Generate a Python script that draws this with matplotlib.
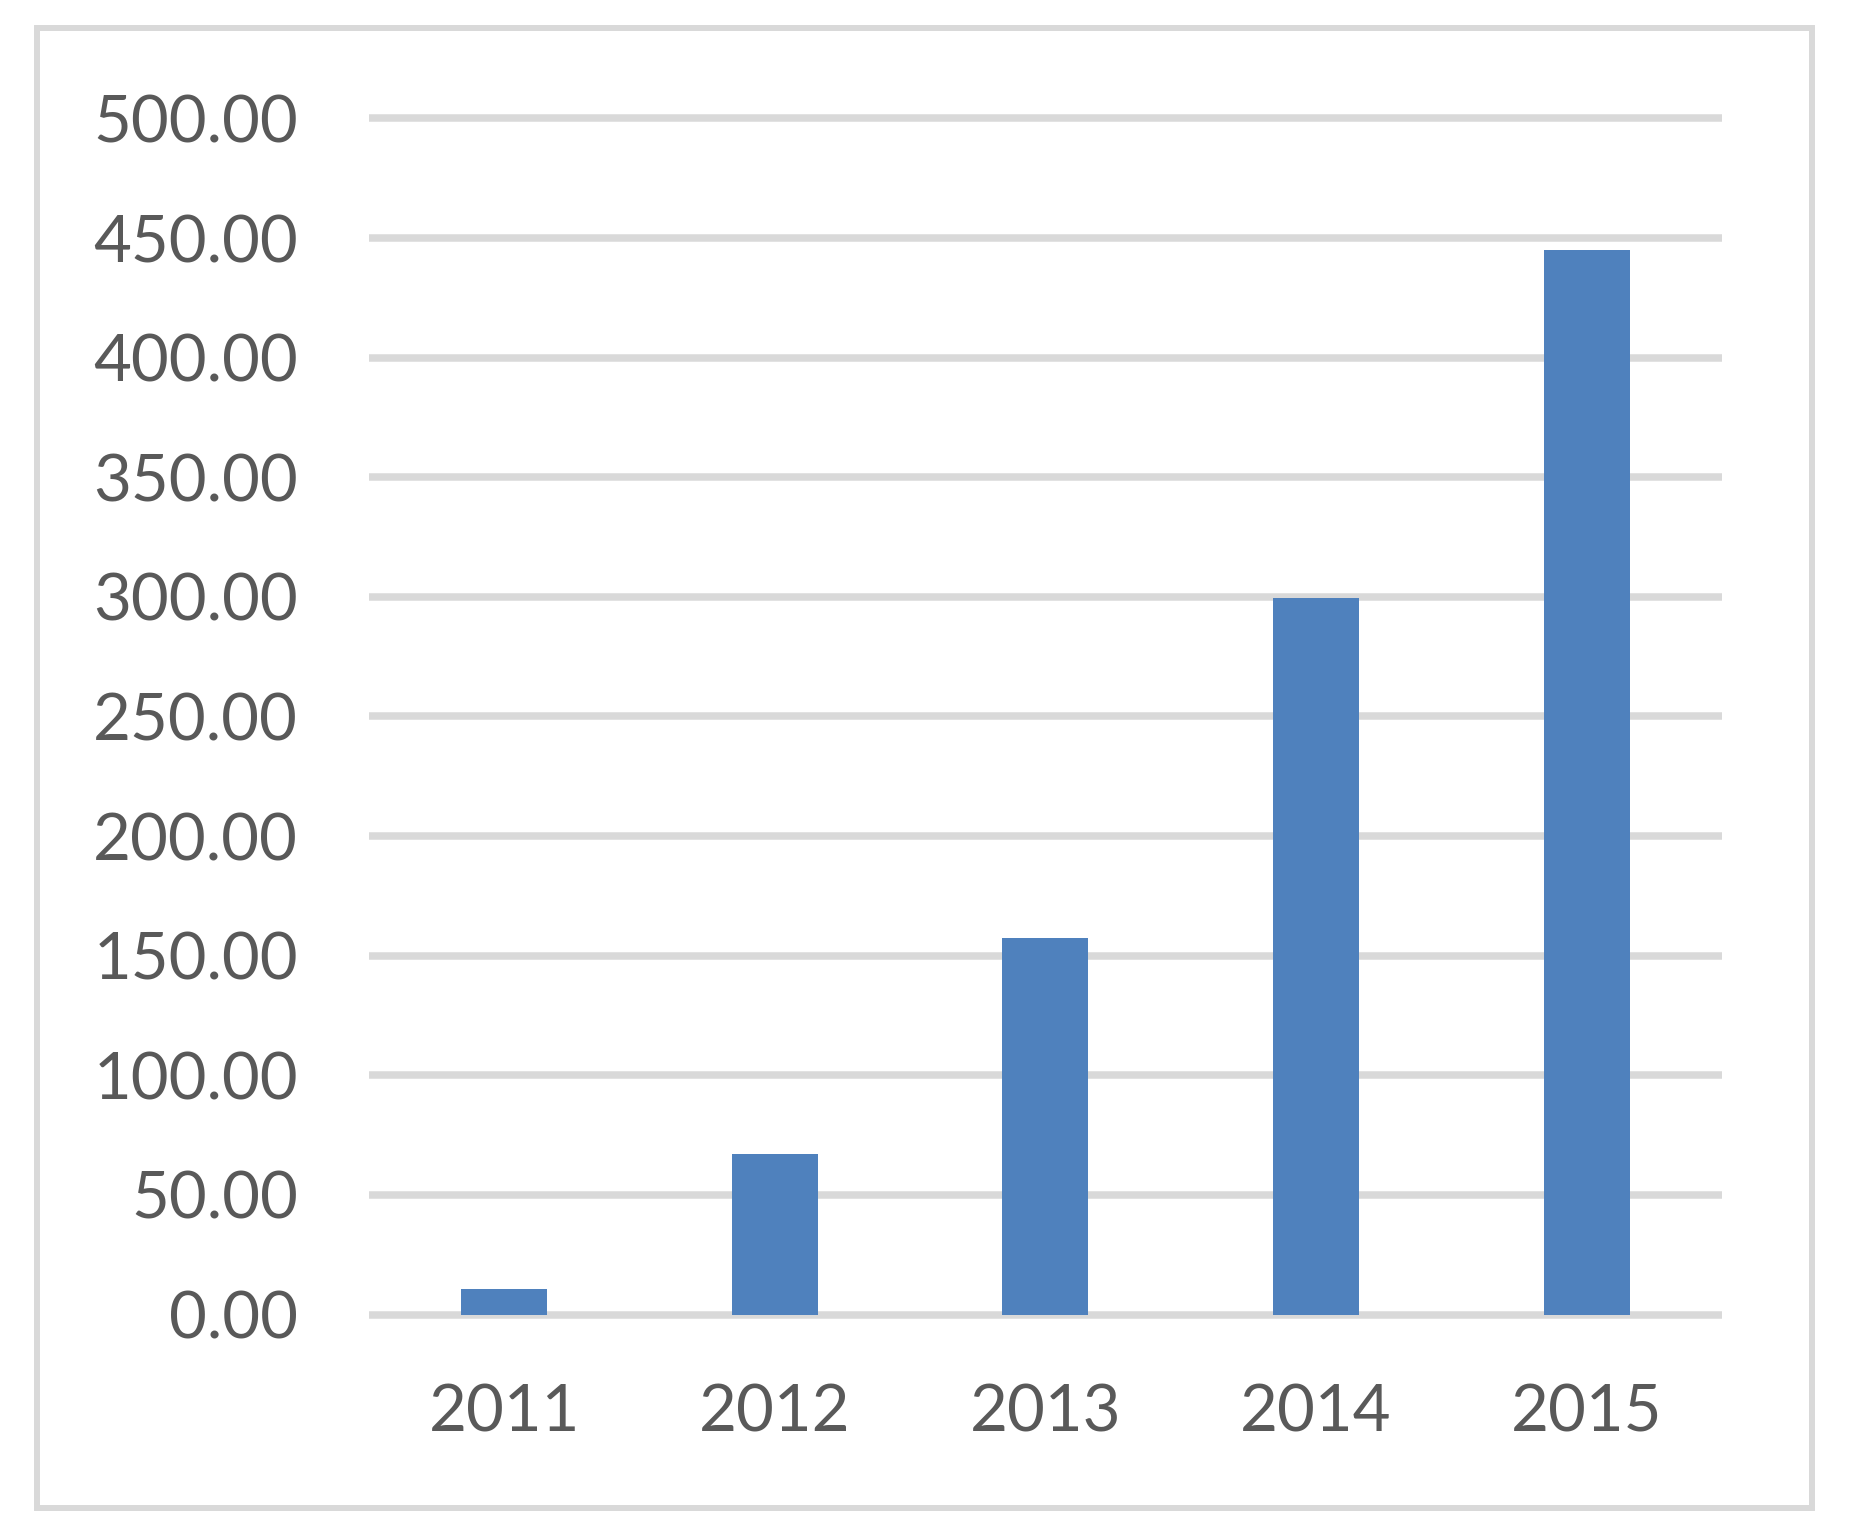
import matplotlib.pyplot as plt
from matplotlib.patches import Rectangle

# Données
years = ["2011", "2012", "2013", "2014", "2015"]
values = [10.7, 67.1, 157.4, 299.5, 445.0]
y_ticks = [0, 50, 100, 150, 200, 250, 300, 350, 400, 450, 500]

plt.rcParams["font.family"] = ["Lato", "DejaVu Sans"]

fig = plt.figure(figsize=(18.53, 15.38), dpi=100)
ax = fig.add_axes([0.1991, 0.1453, 0.7302, 0.7777])

x = range(len(years))
ax.bar(x, values, width=0.318, color="#4F81BD", zorder=3)

ax.set_xlim(-0.5, len(years) - 0.5)
ax.set_ylim(0, 500)
ax.set_yticks(y_ticks)
ax.set_yticklabels([f"{v:.2f}" for v in y_ticks])
ax.set_xticks(list(x))
ax.set_xticklabels(years)

ax.grid(axis="y", color="#D9D9D9", linewidth=5.4, zorder=0)
ax.set_axisbelow(True)
for gl in ax.get_ygridlines():
    gl.set_clip_on(False)
    gl.set_solid_capstyle("butt")
for s in ax.spines.values():
    s.set_visible(False)
ax.tick_params(axis="both", length=0, labelsize=47, labelcolor="#595959")
ax.tick_params(axis="y", pad=51)
ax.tick_params(axis="x", pad=50)

# Cadre extérieur
fig.patches.append(Rectangle((37 / 1853, 1 - 1508 / 1538), (1812 - 37) / 1853, (1508 - 28) / 1538,
                             transform=fig.transFigure, fill=False, edgecolor="#D9D9D9", linewidth=4.3))

fig.savefig("out.png", dpi=100, facecolor="white")
